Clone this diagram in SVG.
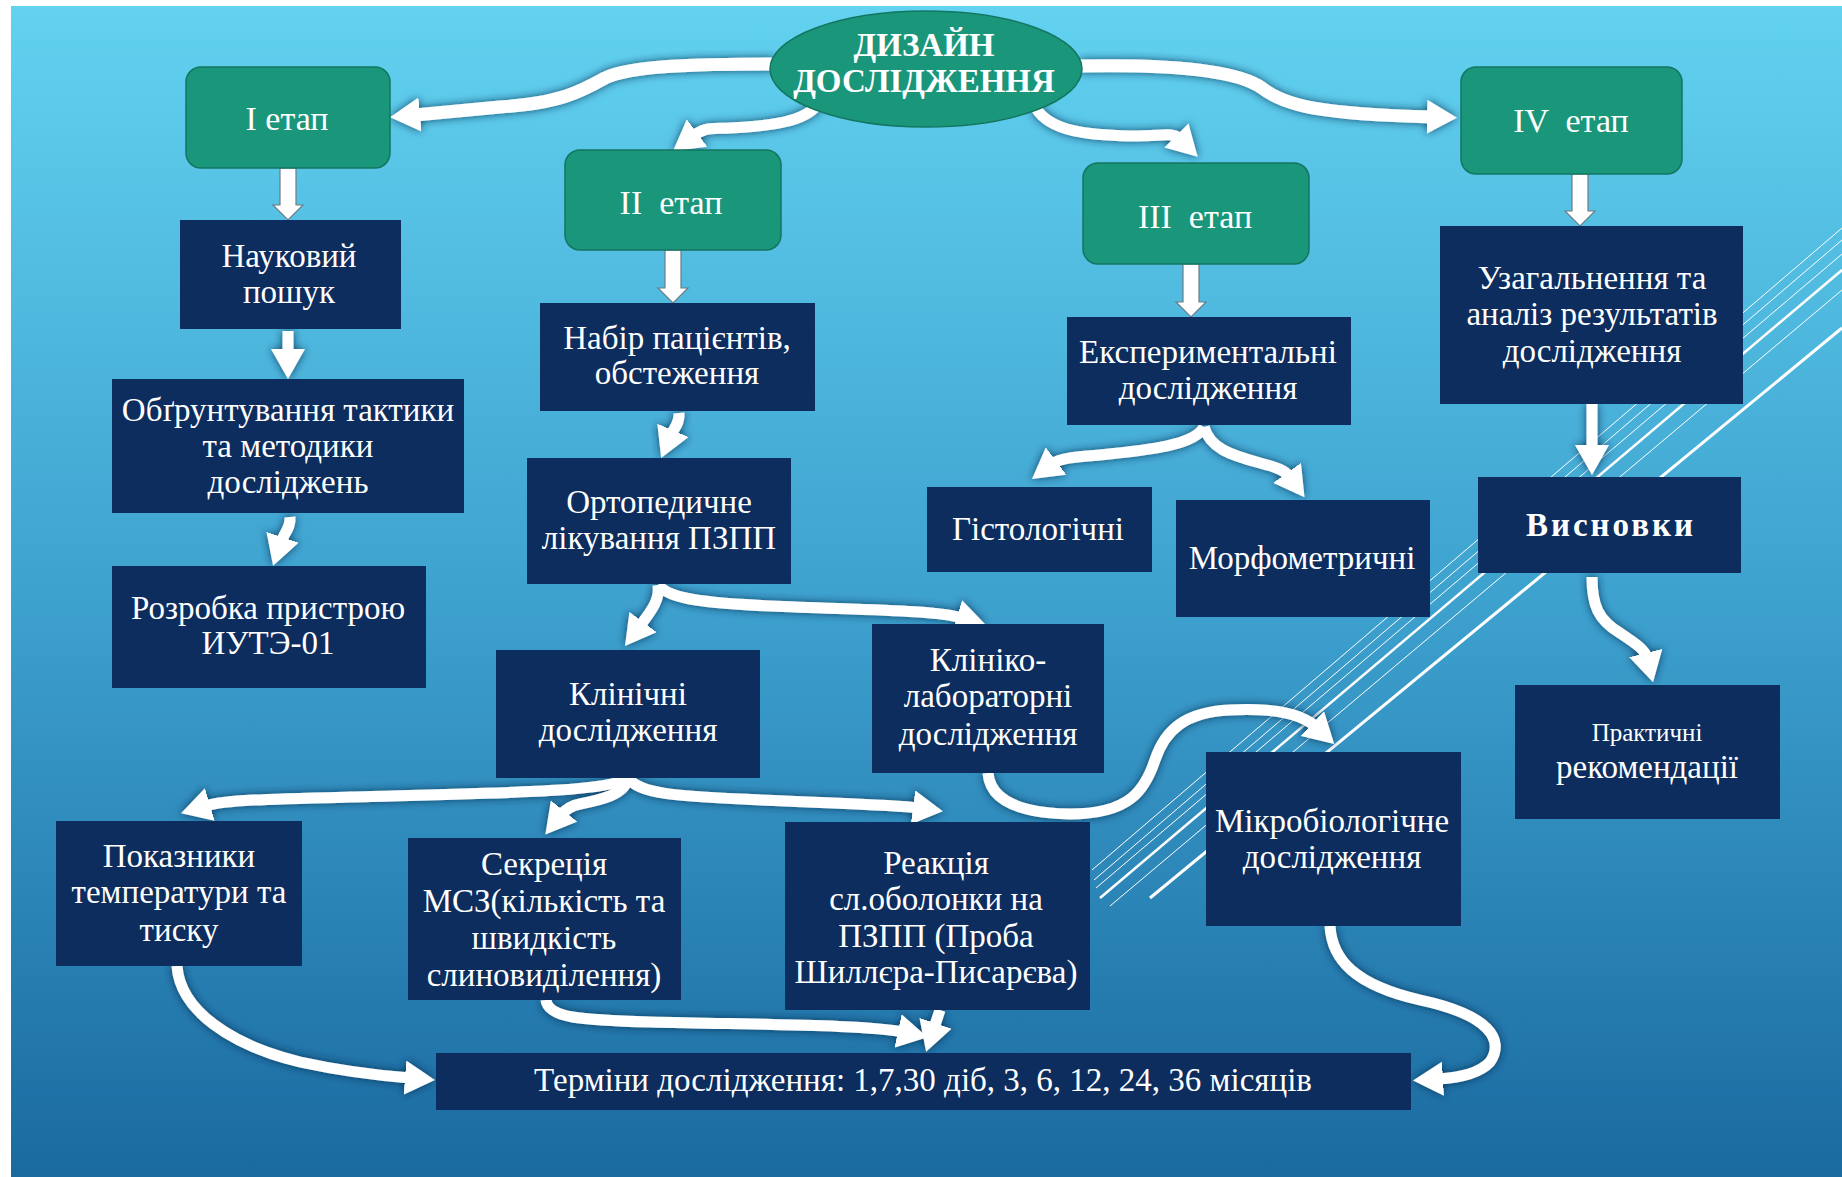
<svg xmlns="http://www.w3.org/2000/svg" width="1842" height="1177" viewBox="0 0 1842 1177">
<defs>
<linearGradient id="bg" x1="0" y1="0" x2="0" y2="1">
<stop offset="0" stop-color="#62d2f0"/>
<stop offset="0.5" stop-color="#3ea2cf"/>
<stop offset="1" stop-color="#1a6aa0"/>
</linearGradient>
<filter id="shadow" x="-10%" y="-10%" width="120%" height="120%">
<feGaussianBlur in="SourceAlpha" stdDeviation="4" result="b"/>
<feFlood flood-color="#08264a" flood-opacity="0.8"/>
<feComposite operator="in" in2="b" result="s"/>
<feMerge><feMergeNode in="s"/><feMergeNode in="SourceGraphic"/></feMerge>
</filter>
<marker id="ah" markerUnits="userSpaceOnUse" viewBox="0 0 30 34" markerWidth="30" markerHeight="34" refX="5" refY="17" orient="auto">
<path d="M0,0 L30,17 L0,34 z" fill="#ffffff"/>
</marker>
<style>
.green{fill:#1a967a;stroke:#137660;stroke-width:1.5}
.navy{fill:#0c2d5e}
.t{fill:#ffffff;text-anchor:middle;font-family:'Liberation Serif', serif}
.f30{font-size:33px}
.f32{font-size:34px}
.c{fill:none;stroke:#ffffff;stroke-width:11;marker-end:url(#ah)}
.cw{fill:none;stroke:#ffffff;stroke-width:13;marker-end:url(#ah)}
.blk{fill:#ffffff;stroke:#6b7d86;stroke-width:1.2}
.dl{stroke:#ffffff;fill:none}
</style>
</defs>
<rect x="0" y="0" width="1842" height="1177" fill="#ffffff"/>
<rect x="11" y="6" width="1831" height="1171" fill="url(#bg)"/>
<g id="decor">
<line class="dl" x1="1842" y1="328" x2="1150" y2="898" stroke-width="3"/>
<line class="dl" x1="1842" y1="270" x2="1100" y2="898" stroke-width="2.5"/>
<line class="dl" x1="1842" y1="228" x2="1092" y2="870" stroke-width="1"/>
<line class="dl" x1="1842" y1="240" x2="1094" y2="880" stroke-width="1"/>
<line class="dl" x1="1842" y1="254" x2="1096" y2="888" stroke-width="1"/>
<line class="dl" x1="1842" y1="290" x2="1110" y2="906" stroke-width="1"/>
</g>
<g id="connectors">
<g filter="url(#shadow)">
<path class="cw" d="M 775 64 C 690 64, 630 66, 605 78 C 580 92, 560 103, 500 107 L 415 115"/>
<path class="cw" d="M 1080 66 C 1180 64, 1240 72, 1262 88 C 1285 106, 1320 114, 1432 117"/>
<path class="c" d="M 818 104 C 805 122, 770 126, 730 128 C 710 129, 705 127, 693 136"/>
<path class="c" d="M 1036 108 C 1050 132, 1090 135, 1130 136 C 1160 137, 1172 131, 1180 139"/>
<path class="c" d="M 288 331 L 288 354"/>
<path class="c" d="M 290 517 C 291 528, 284 533, 281 542"/>
<path class="c" d="M 679 413 C 680 423, 674 428, 671 435"/>
<path class="c" d="M 658 585 C 660 600, 652 610, 640 626"/>
<path class="c" d="M 658 585 C 670 600, 710 603, 770 606 C 860 610, 935 610, 962 618"/>
<path class="c" d="M 1204 427 C 1195 445, 1150 450, 1100 455 C 1075 457, 1060 458, 1052 464"/>
<path class="c" d="M 1204 427 C 1210 448, 1230 455, 1260 463 C 1275 467, 1285 470, 1290 477"/>
<path class="c" d="M 1592 404 L 1592 450"/>
<path class="c" d="M 1592 577 C 1592 605, 1598 620, 1620 633 C 1638 645, 1645 650, 1647 658"/>
<path class="c" d="M 628 778 C 610 792, 500 793, 350 797 C 270 799, 225 800, 205 806"/>
<path class="c" d="M 628 778 C 625 795, 600 800, 580 804 C 570 806, 565 810, 561 815"/>
<path class="c" d="M 628 778 C 640 795, 680 796, 760 800 C 850 804, 895 805, 918 808"/>
<path class="c" d="M 988 773 C 990 800, 1020 813, 1070 814 C 1130 814, 1145 790, 1155 760 C 1165 730, 1185 712, 1230 710 C 1270 708, 1300 712, 1316 727"/>
<path class="c" d="M 177 966 C 180 1010, 230 1045, 300 1062 C 350 1073, 385 1076, 410 1078"/>
<path class="c" d="M 546 1000 C 548 1018, 580 1020, 650 1022 C 780 1025, 870 1025, 903 1032"/>
<path class="c" d="M 940 1010 L 934 1028"/>
<path class="c" d="M 1330 926 C 1332 960, 1355 985, 1420 1000 C 1490 1015, 1505 1040, 1490 1062 C 1478 1075, 1455 1078, 1438 1079"/>
</g>
<polygon class="blk" points="280,168 296,168 296,205 303,205 288,220 273,205 280,205"/>
<polygon class="blk" points="665,250 681,250 681,288 688,288 673,303 658,288 665,288"/>
<polygon class="blk" points="1183,264 1199,264 1199,302 1206,302 1191,317 1176,302 1183,302"/>
<polygon class="blk" points="1572,174 1588,174 1588,211 1595,211 1580,226 1565,211 1572,211"/>
</g>
<g id="n-design"><ellipse class="green" cx="926" cy="69" rx="156" ry="58"/>
<text class="t" font-weight="bold" font-size="33"><tspan x="924" y="56">ДИЗАЙН</tspan><tspan x="924" y="92">ДОСЛІДЖЕННЯ</tspan></text></g>
<g id="n-stage1"><rect class="green" x="186" y="67" width="204" height="101" rx="15"/><text class="t f32" x="287" y="130">I етап</text></g>
<g id="n-stage2"><rect class="green" x="565" y="150" width="216" height="100" rx="15"/><text class="t f32" x="671" y="214" xml:space="preserve">II  етап</text></g>
<g id="n-stage3"><rect class="green" x="1083" y="163" width="226" height="101" rx="15"/><text class="t f32" x="1195" y="228" xml:space="preserve">III  етап</text></g>
<g id="n-stage4"><rect class="green" x="1461" y="67" width="221" height="107" rx="15"/><text class="t f32" x="1571" y="132" xml:space="preserve">IV  етап</text></g>
<g id="n-search"><rect class="navy" x="180" y="220" width="221" height="109"/><text class="t f30"><tspan x="289" y="267">Науковий</tspan><tspan x="289" y="303">пошук</tspan></text></g>
<g id="n-ground"><rect class="navy" x="112" y="379" width="352" height="134"/><text class="t f30"><tspan x="288" y="421">Обґрунтування тактики</tspan><tspan x="288" y="457">та методики</tspan><tspan x="288" y="493">досліджень</tspan></text></g>
<g id="n-device"><rect class="navy" x="112" y="566" width="314" height="122"/><text class="t f30"><tspan x="268" y="619">Розробка пристрою</tspan><tspan x="268" y="654">ИУТЭ-01</tspan></text></g>
<g id="n-recruit"><rect class="navy" x="540" y="303" width="275" height="108"/><text class="t f30"><tspan x="677" y="349">Набір пацієнтів,</tspan><tspan x="677" y="384">обстеження</tspan></text></g>
<g id="n-ortho"><rect class="navy" x="527" y="458" width="264" height="126"/><text class="t f30"><tspan x="659" y="513">Ортопедичне</tspan><tspan x="659" y="549">лікування ПЗПП</tspan></text></g>
<g id="n-clinical"><rect class="navy" x="496" y="650" width="264" height="128"/><text class="t f30"><tspan x="628" y="705">Клінічні</tspan><tspan x="628" y="741">дослідження</tspan></text></g>
<g id="n-clinlab"><rect class="navy" x="872" y="624" width="232" height="149"/><text class="t f30"><tspan x="988" y="671">Клініко-</tspan><tspan x="988" y="707">лабораторні</tspan><tspan x="988" y="745">дослідження</tspan></text></g>
<g id="n-exper"><rect class="navy" x="1067" y="317" width="284" height="108"/><text class="t f30"><tspan x="1208" y="363">Експериментальні</tspan><tspan x="1208" y="399">дослідження</tspan></text></g>
<g id="n-histo"><rect class="navy" x="927" y="487" width="225" height="85"/><text class="t f30" x="1038" y="540">Гістологічні</text></g>
<g id="n-morpho"><rect class="navy" x="1176" y="500" width="254" height="117"/><text class="t f30" x="1302" y="569">Морфометричні</text></g>
<g id="n-summary"><rect class="navy" x="1440" y="226" width="303" height="178"/><text class="t f30"><tspan x="1592" y="289">Узагальнення та</tspan><tspan x="1592" y="325">аналіз результатів</tspan><tspan x="1592" y="362">дослідження</tspan></text></g>
<g id="n-concl"><rect class="navy" x="1478" y="477" width="263" height="96"/><text class="t f30" font-weight="bold" letter-spacing="3" x="1611" y="536">Висновки</text></g>
<g id="n-pract"><rect class="navy" x="1515" y="685" width="265" height="134"/><text class="t"><tspan x="1647" y="741" font-size="25">Практичні</tspan><tspan x="1647" y="778" font-size="33">рекомендації</tspan></text></g>
<g id="n-micro"><rect class="navy" x="1206" y="752" width="255" height="174"/><text class="t f30"><tspan x="1332" y="832">Мікробіологічне</tspan><tspan x="1332" y="868">дослідження</tspan></text></g>
<g id="n-temp"><rect class="navy" x="56" y="821" width="246" height="145"/><text class="t f30"><tspan x="179" y="867">Показники</tspan><tspan x="179" y="903">температури та</tspan><tspan x="179" y="941">тиску</tspan></text></g>
<g id="n-secr"><rect class="navy" x="408" y="838" width="273" height="162"/><text class="t f30"><tspan x="544" y="875">Секреція</tspan><tspan x="544" y="912">МСЗ(кількість та</tspan><tspan x="544" y="949">швидкість</tspan><tspan x="544" y="986">слиновиділення)</tspan></text></g>
<g id="n-react"><rect class="navy" x="785" y="822" width="305" height="188"/><text class="t f30"><tspan x="936" y="874">Реакція</tspan><tspan x="936" y="910">сл.оболонки на</tspan><tspan x="936" y="947">ПЗПП (Проба</tspan><tspan x="936" y="983">Шиллєра-Писарєва)</tspan></text></g>
<g id="n-terms"><rect class="navy" x="436" y="1053" width="975" height="57"/><text class="t f30" x="923" y="1091">Терміни дослідження: 1,7,30 діб, 3, 6, 12, 24, 36 місяців</text></g>
</svg>
